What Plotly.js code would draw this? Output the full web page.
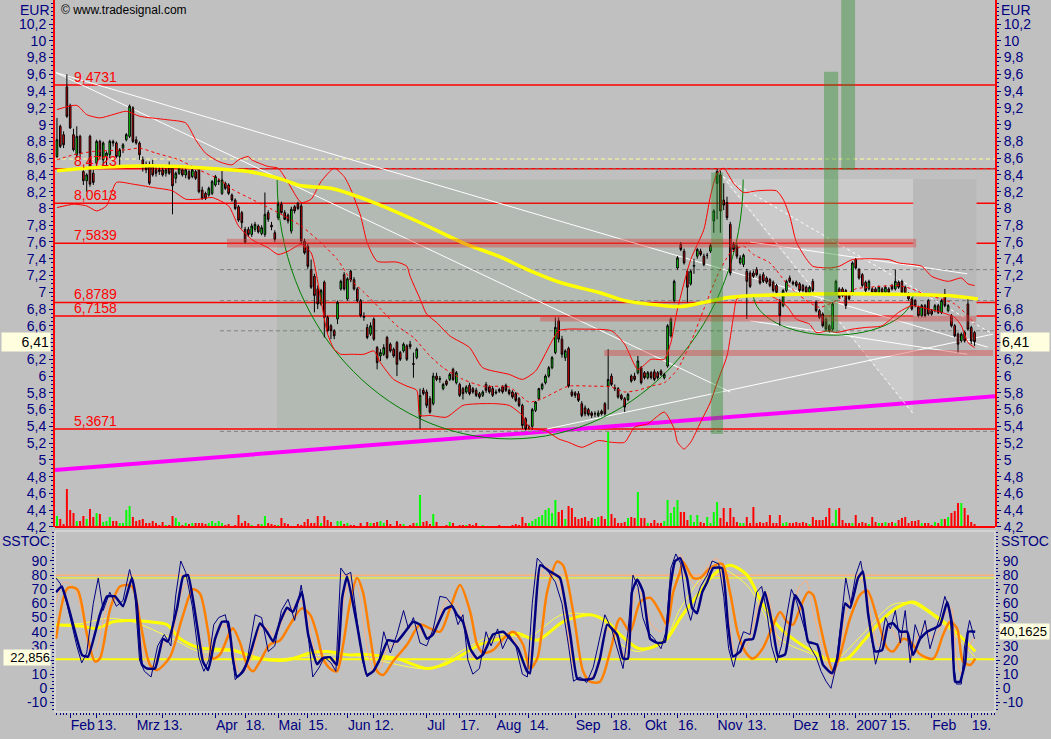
<!DOCTYPE html>
<html><head><meta charset="utf-8">
<script src="https://cdn.plot.ly/plotly-3.0.1.min.js"></script>
<style>html,body{margin:0;padding:0;background:#c0c0c0;}#chart{width:1051px;height:739px;}</style>
</head><body><div id="chart"></div>
<script>
// ---- price data (one candle per trading day, index 0 = 26 Jan 2006) ----
const open = [8.62,8.98,8.88,9.45,9.23,8.88,8.64,8.86,8.44,8.33, 8.86,8.42,8.54,8.80,8.58,8.62,8.64,8.80,8.78,8.62, 8.72,8.82,8.86,9.20,8.82,8.78,8.58,8.50,8.50,8.50, 8.46,8.46,8.46,8.42,8.50,8.48,8.36,8.42,8.46,8.40, 8.44,8.38,8.44,8.46,8.22,8.18,8.16,8.18,8.28,8.32, 8.18,8.30,8.28,8.16,8.10,8.02,7.95,7.75,7.75,7.69, 7.75,7.79,7.70,7.69,7.95,7.80,7.71,7.89,8.05,7.95, 7.92,7.73,8.02,8.06,8.03,7.61,7.55,7.27,7.19,7.04, 6.86,7.12,6.70,6.60,6.54,6.68,7.04,7.21,6.92,7.25, 7.15,7.04,6.90,6.70,6.58,6.50,6.68,6.34,6.24,6.26, 6.46,6.38,6.32,6.40,6.28,6.30,6.36,6.38,6.15,6.22, 5.51,5.83,5.81,5.73,5.67,6.00,5.96,5.85,5.94,5.96, 6.08,5.92,5.90,5.85,5.81,5.89,5.85,5.83,5.79,5.77, 5.90,5.87,5.85,5.81,5.84,5.87,5.89,5.83,5.81,5.79, 5.73,5.65,5.49,5.39,5.40,5.59,5.73,5.85,5.92,6.00, 6.10,6.28,6.66,6.44,6.22,6.33,5.81,5.80,5.79,5.67, 5.62,5.60,5.56,5.55,5.53,5.58,5.67,5.88,6.00,5.86, 5.85,5.77,5.73,5.72,6.00,6.00,6.04,6.10,6.04,5.98, 6.04,6.05,6.04,6.06,5.98,6.12,6.48,6.90,7.29,7.57, 7.49,7.25,7.10,7.31,7.43,7.49,7.43,7.44,7.49,7.85, 8.30,8.40,8.10,8.07,7.81,7.57,7.55,7.35,7.33,7.25, 7.23,7.23,7.27,7.19,7.21,7.17,7.15,7.12,7.08,6.88, 6.84,7.02,7.17,7.12,7.12,7.10,7.08,7.06,7.00,7.13, 6.88,6.78,6.74,6.68,6.60,6.56,7.00,7.04,7.04,7.02, 6.98,6.98,7.39,7.27,7.21,7.12,7.04,7.04,7.04,7.00, 7.04,7.00,7.04,7.08,7.04,7.12,7.13,7.06,6.98,6.92, 6.90,6.82,6.72,6.84,6.90,6.78,6.78,6.84,6.76,6.98, 6.78,6.72,6.60,6.50,6.42,6.52,6.86,6.58,6.52];
const high = [9.08,9.00,8.92,9.60,9.25,8.95,8.98,8.88,8.50,8.42, 8.88,8.46,8.82,8.82,8.80,8.68,8.82,8.82,8.80,8.72, 8.78,8.90,9.24,9.22,8.86,8.80,8.62,8.56,8.56,8.58, 8.50,8.50,8.50,8.48,8.56,8.50,8.44,8.50,8.48,8.48, 8.46,8.48,8.46,8.48,8.26,8.20,8.26,8.34,8.40,8.36, 8.46,8.32,8.30,8.18,8.12,8.04,7.97,7.78,7.78,7.82, 7.84,7.81,7.80,8.19,7.98,7.84,7.74,8.08,8.08,7.98, 7.94,8.02,8.04,8.08,8.06,7.64,7.58,7.39,7.22,7.08, 7.04,7.14,6.72,6.62,6.56,6.90,7.15,7.24,7.18,7.27, 7.18,7.06,6.92,6.76,6.62,6.64,6.70,6.36,6.32,6.38, 6.48,6.40,6.34,6.42,6.30,6.40,6.38,6.42,6.28,6.34, 5.85,5.86,5.84,5.76,6.04,6.04,6.00,5.92,5.96,6.04, 6.10,6.06,5.92,5.87,5.89,5.92,5.87,5.86,5.81,5.83, 5.93,5.89,5.88,5.84,5.86,5.89,5.91,5.85,5.83,5.81, 5.75,5.67,5.51,5.42,5.62,5.70,5.86,5.92,6.02,6.12, 6.24,6.70,6.70,6.48,6.32,6.35,5.84,5.82,5.82,5.70, 5.65,5.62,5.58,5.58,5.59,5.60,5.69,6.32,6.03,5.90, 5.87,5.79,5.75,5.80,6.02,6.04,6.24,6.12,6.06,6.06, 6.06,6.08,6.06,6.08,6.04,6.62,6.70,7.15,7.43,7.60, 7.52,7.28,7.27,7.40,7.53,7.52,7.46,7.47,7.58,7.99, 8.47,8.45,8.30,8.14,7.84,7.60,7.58,7.44,7.46,7.28, 7.26,7.26,7.30,7.22,7.24,7.19,7.17,7.14,7.10,6.92, 7.04,7.15,7.20,7.14,7.14,7.12,7.10,7.08,7.08,7.16, 6.90,6.80,6.76,6.70,6.62,6.88,7.15,7.06,7.06,7.04, 7.00,7.37,7.41,7.29,7.23,7.14,7.15,7.06,7.06,7.08, 7.06,7.08,7.06,7.10,7.27,7.14,7.15,7.08,7.00,6.94, 6.92,6.84,6.86,6.86,6.92,6.80,6.86,6.86,6.92,7.04, 6.86,6.74,6.62,6.52,6.52,6.54,6.92,6.60,6.54];
const low = [8.60,8.72,8.72,9.08,8.95,8.68,8.60,8.60,8.28,8.20, 8.26,8.28,8.48,8.58,8.50,8.52,8.60,8.74,8.60,8.50, 8.66,8.80,8.84,8.78,8.76,8.58,8.44,8.42,8.28,8.38, 8.38,8.40,8.38,8.38,8.40,7.93,8.30,8.40,8.38,8.36, 8.34,8.36,8.34,8.18,8.10,8.10,8.14,8.16,8.26,8.28, 8.16,8.22,8.16,8.08,7.98,7.84,7.76,7.58,7.66,7.66, 7.72,7.70,7.68,7.66,7.84,7.74,7.60,7.86,7.94,7.86, 7.82,7.70,7.94,7.98,7.58,7.45,7.28,7.04,6.76,6.80, 6.84,6.46,6.52,6.44,6.44,6.62,7.02,7.02,6.90,7.12, 7.02,6.88,6.70,6.66,6.44,6.48,6.42,6.08,6.18,6.24, 6.20,6.28,6.22,6.00,6.18,6.28,6.18,6.32,5.98,6.20, 5.37,5.77,5.62,5.55,5.65,5.94,5.92,5.83,5.88,5.94, 5.94,5.90,5.75,5.72,5.79,5.77,5.79,5.75,5.73,5.75, 5.80,5.79,5.75,5.78,5.80,5.79,5.81,5.77,5.73,5.69, 5.63,5.37,5.35,5.36,5.36,5.57,5.71,5.83,5.90,5.98, 6.08,6.26,6.40,6.22,6.18,5.86,5.75,5.74,5.69,5.51, 5.52,5.52,5.50,5.51,5.51,5.53,5.53,5.60,5.88,5.82, 5.73,5.71,5.57,5.70,5.92,5.94,6.02,5.90,5.96,5.96, 5.96,5.94,5.96,6.00,5.96,6.10,6.46,6.88,7.27,7.49, 7.33,6.88,7.08,7.22,7.40,7.43,7.31,7.40,7.47,7.71, 7.87,7.71,7.98,7.86,7.20,7.48,7.40,7.33,7.30,6.68, 7.05,7.17,7.19,7.09,7.11,7.10,7.06,7.00,6.98,6.60, 6.82,7.00,7.11,7.08,7.06,7.00,7.00,6.98,6.98,7.00, 6.76,6.68,6.58,6.54,6.52,6.54,6.98,6.92,6.94,6.80, 6.90,6.96,7.27,7.15,7.06,7.00,7.02,6.98,6.98,6.98, 6.98,6.98,6.98,7.02,7.02,7.04,6.98,6.96,6.90,6.78, 6.82,6.70,6.70,6.70,6.72,6.72,6.76,6.74,6.74,6.82, 6.76,6.58,6.46,6.28,6.40,6.40,6.54,6.38,6.36];
const close = [8.82,8.74,8.76,9.10,8.96,8.70,8.86,8.66,8.33,8.40, 8.29,8.31,8.80,8.62,8.78,8.66,8.80,8.78,8.62,8.70, 8.76,8.88,9.22,8.80,8.78,8.64,8.50,8.46,8.30,8.40, 8.42,8.44,8.40,8.46,8.42,8.27,8.42,8.48,8.40,8.46, 8.36,8.46,8.36,8.20,8.12,8.12,8.24,8.32,8.38,8.33, 8.34,8.24,8.18,8.10,8.00,7.86,7.83,7.60,7.69,7.79, 7.81,7.72,7.77,7.93,7.87,7.78,7.63,8.05,7.95,7.87, 7.85,7.99,7.97,8.00,7.61,7.47,7.31,7.06,6.96,6.86, 7.02,6.70,6.54,6.54,6.48,6.88,7.13,7.04,7.16,7.15, 7.04,6.90,6.72,6.71,6.46,6.60,6.44,6.16,6.28,6.34, 6.22,6.30,6.24,6.14,6.20,6.38,6.20,6.35,6.14,6.32, 5.77,5.79,5.65,5.57,6.00,5.96,5.97,5.90,5.90,6.02, 5.96,6.04,5.77,5.79,5.87,5.79,5.81,5.77,5.75,5.81, 5.83,5.81,5.77,5.80,5.82,5.81,5.83,5.79,5.75,5.71, 5.65,5.41,5.37,5.39,5.60,5.69,5.85,5.90,6.00,6.10, 6.22,6.58,6.44,6.26,6.30,5.88,5.77,5.77,5.71,5.53, 5.55,5.54,5.53,5.55,5.56,5.55,5.55,5.96,5.90,5.85, 5.75,5.73,5.63,5.78,5.94,5.96,6.18,5.92,5.98,6.04, 5.98,5.96,5.98,6.02,6.02,6.60,6.68,7.13,7.41,7.51, 7.35,7.06,7.25,7.32,7.51,7.45,7.33,7.44,7.56,7.97, 8.44,7.97,8.04,7.89,7.23,7.51,7.43,7.41,7.44,7.13, 7.07,7.19,7.21,7.11,7.13,7.12,7.08,7.02,7.00,6.72, 7.02,7.13,7.13,7.10,7.08,7.02,7.02,7.00,7.06,7.02, 6.78,6.70,6.60,6.56,6.54,6.86,7.13,6.94,6.96,6.84, 6.92,7.35,7.29,7.17,7.08,7.02,7.13,7.00,7.00,7.06, 7.00,7.06,7.00,7.04,7.13,7.06,7.00,6.98,6.92,6.80, 6.84,6.72,6.84,6.72,6.74,6.74,6.84,6.76,6.90,6.84, 6.84,6.60,6.48,6.38,6.50,6.42,6.56,6.42,6.41];
const volume = [11,8,3,38,17,14,6,6,11,8, 18,10,14,13,5,6,10,6,6,4, 4,17,21,10,6,7,8,4,4,6, 4,2,5,2,2,11,9,5,2,4, 3,4,4,4,4,3,4,6,4,6, 4,2,3,1,2,12,4,6,4,2, 1,3,3,11,4,3,2,2,9,4, 3,1,1,3,2,5,8,4,4,11, 4,11,7,5,1,6,6,3,4,2, 2,1,4,1,5,4,4,5,6,4, 7,3,1,6,3,3,1,2,4,4, 32,5,6,3,13,5,1,1,2,5, 4,1,2,2,2,3,2,4,1,2, 1,1,1,1,2,1,1,1,2,3, 2,10,4,4,6,8,10,12,17,19, 14,27,15,17,8,21,19,10,8,9, 10,6,9,8,10,11,8,95,13,9, 4,4,5,9,10,9,35,9,9,4, 4,7,4,4,6,27,14,20,27,15, 15,7,12,5,12,5,4,10,4,15, 25,9,19,5,19,10,5,4,4,10, 4,20,4,5,4,5,12,4,4,12, 4,5,4,4,5,4,5,4,3,10, 7,7,7,10,19,4,17,19,7,4, 4,4,12,4,5,4,3,10,5,4, 4,5,4,5,4,7,9,10,4,6, 6,7,4,4,4,2,5,4,8,8, 10,14,16,24,24,19,12,5,3];

// ---- Bollinger bands and 200-day average (bar index, price) ----
const bbUpX = [0,6,9,13,17,21,25,33,39,42,45,49,53,55,58,59,64,67,70,74,77,80,84,87,89,92,94,97,103,106,107,110,112,115,119,125,129,137,141,145,152,155,159,168,172,176,180,184,186,188,192,196,198,200,202,205,208,212,218,220,222,224,227,229,234,237,241,252,255,262,265,270,274,276,278];
const bbUp  = [9.18,9.23,9.12,9.08,9.12,9.16,9.10,9.06,9.02,8.82,8.66,8.56,8.52,8.58,8.62,8.58,8.50,8.48,8.31,8.07,8.11,8.32,8.48,8.38,8.23,7.91,7.59,7.37,7.36,7.31,7.19,6.92,6.74,6.64,6.48,6.34,6.10,6.02,5.96,6.06,6.54,6.56,6.56,6.54,6.38,6.08,6.20,6.20,6.40,6.80,7.39,7.75,8.15,8.42,8.48,8.30,8.19,8.21,8.21,8.11,7.91,7.60,7.40,7.31,7.29,7.31,7.39,7.39,7.35,7.31,7.19,7.13,7.17,7.10,7.08];
const bbLoX = [0,5,9,12,15,18,23,29,35,39,43,47,52,55,59,64,67,70,74,77,80,82,84,86,89,93,96,98,102,106,109,110,113,118,123,128,133,137,141,143,148,152,155,159,164,168,172,175,179,184,187,188,190,192,195,198,200,203,205,206,209,214,216,221,224,228,230,234,236,241,245,250,255,259,264,268,272,274,276,278];
const bbLo  = [8.01,8.05,8.03,7.97,8.03,8.31,8.29,8.25,8.21,8.11,8.11,8.13,8.03,7.79,7.63,7.53,7.45,7.49,7.57,7.47,6.90,6.50,6.32,6.26,6.26,6.26,6.30,6.16,5.96,5.88,5.83,5.53,5.53,5.51,5.65,5.67,5.67,5.65,5.53,5.39,5.35,5.25,5.21,5.15,5.23,5.21,5.21,5.39,5.43,5.57,5.37,5.21,5.13,5.21,5.45,5.69,5.92,6.24,6.72,6.92,6.96,6.96,6.96,6.84,6.68,6.62,6.52,6.54,6.52,6.56,6.58,6.60,6.76,6.84,6.80,6.76,6.70,6.60,6.40,6.34];
const bbMidX = [0,5,11,21,25,30,37,43,49,53,59,67,74,80,85,89,93,98,103,108,113,117,123,129,137,143,147,152,155,162,168,172,176,180,184,188,192,196,200,204,208,211,216,221,225,231,237,242,246,255,259,264,268,272,276,278];
const bbMid  = [8.58,8.64,8.68,8.70,8.72,8.66,8.58,8.46,8.35,8.23,8.11,7.95,7.79,7.59,7.39,7.15,7.00,6.80,6.60,6.46,6.24,6.10,5.96,5.88,5.87,5.69,5.73,5.83,5.88,5.88,5.87,5.81,5.83,5.88,5.92,6.08,6.40,6.80,7.19,7.47,7.55,7.45,7.35,7.11,6.96,6.82,6.92,7.04,7.06,7.08,7.04,6.96,6.92,6.86,6.72,6.62];
const maX = [0,13,28,37,49,58,68,74,83,96,109,123,135,142,153,164,172,184,189,204,211,229,249,270,279];
const ma  = [8.45,8.49,8.51,8.50,8.47,8.44,8.35,8.27,8.24,8.07,7.85,7.59,7.41,7.28,7.11,7.00,6.90,6.84,6.83,6.94,6.96,6.98,6.98,6.96,6.92];

// ---- SSTOC panel lines (bar index, value) ----
const navyX = [-0.3,1.5,7.6,9.4,13,15.2,17.6,20,22.7,24.2,25.8,27.3,29.7,32.1,33.6,36.4,38.2,39.7,42.4,44.2,45.8,47.9,50,51.8,53.3,54.5,56.4,58.5,61.5,63.6,65.5,67.6,69.7,71.5,74.2,76.1,78.8,80.3,82.7,84.8,86.4,87.9,90.9,93.9,95.8,97.9,100.3,103,105.5,107.9,110,112.1,113.9,117.6,119.7,121.2,123,125.2,127.3,129.1,132.1,135.2,137.3,139.7,142.4,143.3,144.8,146.4,149.4,152.4,155.5,157.6,159.4,162.4,164.5,166.7,169.7,171.5,173,174.2,175.8,177.6,179.7,182.1,184.2,185.8,187.3,188.8,190.9,192.4,193.9,195.5,197,198.8,201.5,203.3,204.8,207,208.5,210.9,213,214.5,216.7,218.5,220.6,222.1,223.6,225.8,227.6,230.3,232.1,234.8,236.4,238.8,240.3,242.7,244.2,245.8,247.9,250,251.8,253.3,255.5,257.6,259.4,261.5,263.6,265.5,267.6,269.7,271.2,272.1,273.6,275.2,276.1,278.2];
const navy  = [68,72,23.5,22.4,52,65,65,58,78,59,16.5,14,14,35,33,57,79,80,45,19,13,35,47,47,21,8,12,24,46,40,33,47,57,54,68,38,17,21,22,16.5,64,79,45,9.4,12,21,34,33,40,47,45,35,38,56,58,52,47,28,21,24,38,40,35,28,12,10.6,49.5,87,82.5,78,38,7,6,7,21,45,38,21,21,68,77,68,35,32,33,71,90,92,78,57,53,68,75,85,85,45,22.4,26,34,35,57,68,45,22.4,24,45,66,57,33,31,16.5,10.6,21,60,57,78,82.5,52,26,27,45,46,40,40,23.5,35,40,42,45,61,45,4.7,4.7,19,40,40];
const navyThinX = [-0.3,1,3,6,7.5,9,11,12.5,14,16,18,20,22,23.5,25,26.5,28.5,30.5,32.5,34.5,36,37.5,39,41,43,44.5,46,47.5,49,51,52.5,54,55.5,57.5,60,62,64,66,68,70,72,74,75.5,77.5,79.5,81,83,84.5,86,87.5,89,90.5,92.5,94,96,97.5,99,101,103,105,106.5,108,110,112,114,116,118,120,121.5,123,124.5,126,128,130,131.5,133.5,135,137,139,141,142.5,144,145.5,147,149,151,153,155,156.5,158.5,160.5,162.5,164,166,168,170,171.5,173,174.5,176,177.5,179,181,183,184.5,186,187.5,189,190.5,192,193.5,195,197,198.5,200.5,202,203.5,205,206.5,208,210,212,213.5,215,216.5,218,219.5,221,222.5,224,226,228,230,231.5,233,234.5,236,237.5,239,240.5,242,243.5,245,246.5,248,249.5,251,252.5,254,255.5,257,258.5,260,261.5,263,264.5,266,267.5,269,270.5,271.5,272.5,274,275,276.5,278];
const navyThin  = [78,74,60,30,18,25,60,78,55,68,58,62,84,70,20,12,8,30,38,30,66,90,82,58,22,12,20,45,50,52,35,6,10,18,52,50,26,30,55,63,48,73,50,8,15,22,18,12,85,80,82,55,20,8,13,18,40,25,38,55,42,50,32,30,42,65,64,58,45,52,20,10,14,40,30,42,28,38,30,10,8,60,92,88,82,75,60,30,5,8,4,15,30,52,42,25,14,40,80,72,50,40,35,28,40,85,95,88,60,48,62,72,80,90,88,65,28,15,30,40,38,68,72,55,30,18,30,50,70,62,45,30,22,12,5,0,15,45,78,60,80,90,70,40,17,30,50,42,55,32,55,18,45,35,48,28,40,50,65,55,20,3,3,30,48,35];
const orangeX = [-0.3,3.3,6.1,9.1,11.5,13,16.1,19.1,22.7,25.2,28.2,30.3,34.2,37.9,41.2,43.3,45.8,47.3,49.4,52.4,53.3,55.5,57.6,59.4,61.5,64.5,67.6,70.6,74.2,76.7,78.8,80.6,82.7,84.8,86.7,88.8,90.9,92.7,94.8,97,98.8,101.8,106.1,110,113,116.1,119.1,122.1,125.2,127.3,129.1,132.1,135.2,138.2,141.2,143.3,145.5,148.5,151.5,153.3,156.4,159.4,161.5,164.5,167.6,170.6,173.6,176.7,179.7,182.7,184.8,186.7,188.8,189.7,192.7,194.8,197.9,201.5,203.9,206.4,209.1,210.9,213.9,217,219.1,221.2,223,225.2,227.6,229.1,231.2,233.3,235.2,237.3,240.3,243.3,245.5,248.5,251.5,253.3,256.4,258.5,261.5,265.5,268.5,270.6,272.7,274.5,276.7,278.2];
const orange  = [35,71,70,38,19,21,56,72,72,47,16.5,13,22,49.5,70,67,40,21,24,40,42.4,32,16.5,12,19,31,34,45,56.5,52,38,21,14,12,31,61,78,68,38,12,9.4,19,31,45,42.4,40,56.5,73,54,31,25,27,35,40,31,14,21,68,89.5,87,54,12,4.7,4.7,26,49.5,40,61,64,54,45,68,82.5,89.5,78,78,85,88,68,38,24,21,28.5,45,54,47,45,57,68,66,45,24,12,24,49.5,66,69,49.5,28.5,26,35,33,24,21,38,47,42.4,19,16.5,21];
const peachX = [-0.3,2,5,8,10,12,14,16,18,21,23,25,27,29,32,35,37,39,41,43,45,47,49,51,53,55,57,59,62,64,66,69,72,74,76,78,80,82,84,86,88,90,92,94,96,98,100,103,106,109,112,115,118,121,124,126,128,131,134,137,140,142,144,146,148,150,153,156,158,161,164,166,168,170,172,174,176,178,180,183,185,187,189,191,194,197,200,203,205,207,209,211,213,215,217,219,221,223,225,227,229,231,233,235,237,239,241,243,245,247,249,251,253,255,257,259,261,263,265,267,269,271,272.5,274,276,278];
const peach  = [60,75,72,50,26,28,48,62,66,74,74,40,18,16,30,38,62,74,66,40,20,30,42,45,32,12,12,22,44,42,36,52,58,62,50,28,18,18,16,50,72,80,62,28,12,14,28,32,42,44,36,45,62,60,42,22,22,35,36,38,28,14,30,78,86,84,68,20,6,6,14,38,44,34,22,52,70,62,45,40,52,88,94,80,72,86,92,58,28,22,30,45,62,68,48,30,40,58,72,76,55,36,18,8,22,52,66,78,72,45,30,40,42,34,40,22,38,44,35,40,52,57,22,10,28,36];
const yelX = [-0.3,7,12.1,17,21.2,28.2,33.3,37.3,43.3,53.3,61.5,69.7,76.7,81.8,88.8,92.7,103,112.1,117,123,128.2,134.2,139.4,145.5,153.3,161.5,166.7,170.6,175.8,179.7,184.8,188.8,194.8,198.8,203.9,209.1,213.9,219.1,224.2,229.1,234.2,239.4,244.2,249.4,254.5,259.4,264.5,269.7,274.5,278.2];
const yel  = [45,44,42.4,47,48,47,45,35,28.5,27,21,20,25,26,23.5,24,21,14,16.5,24,31,35,39,34,47,52,47,38,28.5,28.5,35,49.5,68,80,87,80,59,42.4,33,26,20,21,33,47,57,61,54,45,35,26];
const yelThinX = [-0.3,8,15,23,35,43,53,63,74,89,113,123,133,143,153,164,171,176,184,189,199,209,219,229,235,244,253,259,270,278];
const yelThin  = [45,46,49.5,47,35,26,26,20,22.4,23.5,14,27,38,36.5,52,50.5,31,26,34,57,86,73,35,24,19,38,59,60,42.4,22.4];

// ---- axis labels ----
const xTickIdx  = [4,12,24,32,48,57,67,76,88,96,112,122,133,143,157,168,178,188,200,209,223,234,242,252.5,265,277];
const xTickText = ['Feb','13.','Mrz','13.','Apr','18.','Mai','15.','Jun','12.','Jul','17.','Aug','14.','Sep','18.','Okt','16.','Nov','13.','Dez','18.','2007','15.','Feb','19.'];
const levels = [9.4731, 8.4723, 8.0613, 7.5839, 6.8789, 6.7158, 5.3671];
const levelText = ['9,4731','8,4723','8,0613','7,5839','6,8789','6,7158','5,3671'];
const lastPriceText = '6,41';
const lastStocLeft = 22.856, lastStocLeftText = '22,856';
const lastStocRight = 40.1625, lastStocRightText = '40,1625';

const NAVY = '#000080';
const FONT = 'Liberation Sans, Arial, sans-serif';
const idx = open.map((_, i) => i);
const fmt = v => { let s = (Math.round(v*10)/10).toFixed(1); if (s.endsWith('.0')) s = s.slice(0,-2); return s.replace('.', ','); };
const pTicks = []; for (let k = 42; k <= 102; k += 2) pTicks.push(k/10);
const sTicks = []; for (let k = -10; k <= 90; k += 10) sTicks.push(k);
// labels hidden behind the value boxes
const pTextL = pTicks.map(v => Math.abs(v - 6.4) < 1e-6 ? '' : fmt(v));
const pTextR = pTextL.slice();
const sTextL = sTicks.map(v => v === 20 ? '' : String(v));
const sTextR = sTicks.map(v => v === 40 ? '' : String(v));

const volColor = close.map((c, i) => c >= open[i] ? '#00ff00' : '#ff0000');

const traces = [
  {type:'bar', x: idx, y: volume, xaxis:'x', yaxis:'y3', marker:{color: volColor, line:{width:0}}, width:0.6, hoverinfo:'skip'},
  {type:'scatter', mode:'lines', x: bbUpX, y: bbUp, xaxis:'x', yaxis:'y', line:{color:'#ff0000', width:1, shape:'spline', smoothing:0.6}, hoverinfo:'skip'},
  {type:'scatter', mode:'lines', x: bbLoX, y: bbLo, xaxis:'x', yaxis:'y', line:{color:'#ff0000', width:1, shape:'spline', smoothing:0.6}, hoverinfo:'skip'},
  {type:'scatter', mode:'lines', x: bbMidX, y: bbMid, xaxis:'x', yaxis:'y', line:{color:'#ff0000', width:1, dash:'3px,3px', shape:'spline', smoothing:0.6}, hoverinfo:'skip'},
  {type:'candlestick', x: idx, open: open, high: high, low: low, close: close, xaxis:'x', yaxis:'y',
   increasing:{line:{color:'#000000', width:1}, fillcolor:'#00ff00'},
   decreasing:{line:{color:'#000000', width:1}, fillcolor:'#ff0000'}, whiskerwidth:0, hoverinfo:'skip'},
  {type:'scatter', mode:'lines', x: maX, y: ma, xaxis:'x', yaxis:'y', line:{color:'#ffff00', width:3.5, shape:'spline', smoothing:0.8}, hoverinfo:'skip'},
  // SSTOC
  {type:'scatter', mode:'lines', x: yelThinX, y: yelThin, xaxis:'x2', yaxis:'y4', line:{color:'#ffff40', width:1, shape:'spline', smoothing:0.8}, hoverinfo:'skip'},
  {type:'scatter', mode:'lines', x: yelX, y: yel, xaxis:'x2', yaxis:'y4', line:{color:'#ffff00', width:3, shape:'spline', smoothing:0.8}, hoverinfo:'skip'},
  {type:'scatter', mode:'lines', x: peachX, y: peach, xaxis:'x2', yaxis:'y4', line:{color:'#ffb07a', width:1, shape:'spline', smoothing:0.6}, hoverinfo:'skip'},
  {type:'scatter', mode:'lines', x: orangeX, y: orange, xaxis:'x2', yaxis:'y4', line:{color:'#ff8000', width:2.5, shape:'spline', smoothing:0.8}, hoverinfo:'skip'},
  {type:'scatter', mode:'lines', x: navyThinX, y: navyThin, xaxis:'x2', yaxis:'y4', line:{color:NAVY, width:1}, hoverinfo:'skip'},
  {type:'scatter', mode:'lines', x: navyX, y: navy, xaxis:'x2', yaxis:'y4', line:{color:NAVY, width:2.5, shape:'spline', smoothing:0.4}, hoverinfo:'skip'}
];

// half-ellipse (cup) as bezier path in data coordinates
function cup(cx, rx, topY, ry) {
  const k = 0.5523;
  const x0 = cx - rx, x1 = cx + rx, yb = topY - ry;
  return `M ${x0},${topY} C ${x0},${topY - k*ry} ${cx - k*rx},${yb} ${cx},${yb} C ${cx + k*rx},${yb} ${x1},${topY - k*ry} ${x1},${topY}`;
}

const shapes = [];
// shaded regions
shapes.push({type:'rect', xref:'x', yref:'y', x0:66.7, x1:198.2, y0:5.367, y1:8.345, fillcolor:'rgba(90,140,90,0.12)', line:{width:0}, layer:'below'});
shapes.push({type:'path', xref:'x', yref:'y', path:'M 201.8,8.35 L 259.4,8.35 L 259.4,5.55 Z', fillcolor:'rgba(255,255,255,0.18)', line:{width:0}, layer:'below'});
shapes.push({type:'rect', xref:'x', yref:'y', x0:259.4, x1:278.6, y0:6.28, y1:8.35, fillcolor:'#b9b9b9', opacity:1, line:{width:0}, layer:'below'});
// magenta trend
shapes.push({type:'line', xref:'x', yref:'y', x0:-0.6, y0:4.88, x1:284.2, y1:5.76, line:{color:'#ff00ff', width:4}, layer:'below'});
// dashed levels
[8.47, 7.27, 6.90, 6.54, 5.34].forEach(v => shapes.push({type:'line', xref:'x', yref:'y', x0:49.4, x1:284.2, y0:v, y1:v, line:{color:'#808080', width:1, dash:'4px,3px'}, layer:'below'}));
shapes.push({type:'line', xref:'paper', yref:'y', x0:0, x1:1, y0:8.59, y1:8.59, line:{color:'#ffff99', width:1, dash:'4px,3px'}, layer:'below'});
// red levels
levels.forEach(v => shapes.push({type:'line', xref:'paper', yref:'y', x0:0, x1:1, y0:v, y1:v, line:{color:'#ff0000', width:1.5}, layer:'below'}));
// white trend lines
shapes.push({type:'line', xref:'x', yref:'y', x0:-0.3, y0:9.62, x1:282, y1:6.345, line:{color:'#ffffff', width:1}, layer:'below'});
shapes.push({type:'line', xref:'x', yref:'y', x0:-0.3, y0:9.62, x1:204, y1:5.81, line:{color:'#ffffff', width:1}, layer:'below'});
shapes.push({type:'line', xref:'x', yref:'y', x0:148.5, y0:5.369, x1:283.6, y1:6.50, line:{color:'#ffffff', width:1}, layer:'below'});
shapes.push({type:'line', xref:'x', yref:'y', x0:210, y0:7.60, x1:275.8, y1:7.22, line:{color:'#ffffff', width:1}, layer:'below'});
shapes.push({type:'line', xref:'x', yref:'y', x0:210, y0:6.66, x1:275.8, y1:6.26, line:{color:'#ffffff', width:1}, layer:'below'});
shapes.push({type:'line', xref:'x', yref:'y', x0:201.8, y0:8.38, x1:259.4, y1:5.55, line:{color:'#ffffff', width:1, dash:'3px,3px'}, layer:'below'});
shapes.push({type:'line', xref:'x', yref:'y', x0:201.8, y0:8.38, x1:282.7, y1:6.52, line:{color:'#ffffff', width:1, dash:'3px,3px'}, layer:'below'});
// cups
shapes.push({type:'path', xref:'x', yref:'y', path: cup(137.3, 70.6, 8.345, 3.095), line:{color:'#008000', width:1}, layer:'below'});
shapes.push({type:'path', xref:'x', yref:'y', path: cup(235.2, 24.2, 6.976, 0.488), line:{color:'#008000', width:1}, layer:'below'});
// red zones
shapes.push({type:'rect', xref:'x', yref:'y', x0:51.5, x1:260.3, y0:7.534, y1:7.637, fillcolor:'rgba(220,60,60,0.4)', line:{width:0}});
shapes.push({type:'rect', xref:'x', yref:'y', x0:146.4, x1:278.5, y0:6.65, y1:6.72, fillcolor:'rgba(220,60,60,0.4)', line:{width:0}});
shapes.push({type:'rect', xref:'x', yref:'y', x0:165.8, x1:283.6, y0:6.24, y1:6.31, fillcolor:'rgba(220,60,60,0.4)', line:{width:0}});
// green target columns
shapes.push({type:'rect', xref:'x', yref:'y', x0:198.2, x1:201.8, y0:5.31, y1:8.43, fillcolor:'rgba(40,140,40,0.4)', line:{width:0}});
shapes.push({type:'rect', xref:'x', yref:'y', x0:232.4, x1:236.7, y0:6.52, y1:9.63, fillcolor:'rgba(40,140,40,0.4)', line:{width:0}});
shapes.push({type:'rect', xref:'x', yref:'y', x0:237.6, x1:241.8, y0:8.46, y1:10.6, fillcolor:'rgba(40,140,40,0.4)', line:{width:0}});
// panel separators
shapes.push({type:'line', xref:'paper', yref:'y domain', x0:0, x1:1, y0:0, y1:0, line:{color:'#ff0000', width:2}});
shapes.push({type:'rect', xref:'paper', yref:'y4 domain', x0:0, x1:1, y0:0, y1:1, line:{color:'#e6e6e6', width:1}});
// SSTOC guide lines
shapes.push({type:'line', xref:'paper', yref:'y4', x0:0, x1:1, y0:80, y1:80, line:{color:'#ffb07a', width:1.5}, layer:'below'});
shapes.push({type:'line', xref:'paper', yref:'y4', x0:0, x1:1, y0:78, y1:78, line:{color:'#ffff00', width:1}, layer:'below'});
shapes.push({type:'line', xref:'paper', yref:'y4', x0:0, x1:1, y0:20.5, y1:20.5, line:{color:'#ffff00', width:2}, layer:'below'});

const px2paperX = p => (p - 55) / 940;
const px2paperY = p => (712 - p) / 712;
const annotations = [];
levels.forEach((v, k) => annotations.push({xref:'x', yref:'y', x:4.5, y:v, xanchor:'left', yanchor:'bottom', yshift:-2, text: levelText[k], showarrow:false, font:{family:FONT, size:14, color:'#ff0000'}}));
annotations.push({xref:'paper', yref:'paper', x:px2paperX(52), y:px2paperY(10), xanchor:'right', yanchor:'middle', text:'EUR', showarrow:false, font:{family:FONT, size:14, color:NAVY}});
annotations.push({xref:'paper', yref:'paper', x:px2paperX(999), y:px2paperY(10), xanchor:'left', yanchor:'middle', text:'EUR', showarrow:false, font:{family:FONT, size:14, color:NAVY}});
annotations.push({xref:'paper', yref:'paper', x:px2paperX(59), y:px2paperY(10), xanchor:'left', yanchor:'middle', text:'© www.tradesignal.com', showarrow:false, font:{family:FONT, size:12, color:'#000000'}});
annotations.push({xref:'paper', yref:'paper', x:px2paperX(52), y:px2paperY(541), xanchor:'right', yanchor:'middle', text:'SSTOC', showarrow:false, font:{family:FONT, size:14, color:NAVY}});
annotations.push({xref:'paper', yref:'paper', x:px2paperX(999), y:px2paperY(541), xanchor:'left', yanchor:'middle', text:'SSTOC', showarrow:false, font:{family:FONT, size:14, color:NAVY}});
annotations.push({xref:'paper', yref:'y', x:px2paperX(51), y:close[close.length-1], xanchor:'right', yanchor:'middle', width:46, align:'right', text:lastPriceText, showarrow:false, bgcolor:'#ffffe0', borderpad:1, font:{family:FONT, size:14, color:'#000000'}});
annotations.push({xref:'paper', yref:'y', x:px2paperX(1000), y:close[close.length-1], xanchor:'left', yanchor:'middle', width:46, align:'left', text:lastPriceText, showarrow:false, bgcolor:'#ffffe0', borderpad:1, font:{family:FONT, size:14, color:'#000000'}});
annotations.push({xref:'paper', yref:'y4', x:px2paperX(51), y:lastStocLeft - 0.9, xanchor:'right', yanchor:'middle', width:46, align:'right', text:lastStocLeftText, showarrow:false, bgcolor:'#ffffe0', borderpad:0, font:{family:FONT, size:13, color:'#000000'}});
annotations.push({xref:'paper', yref:'y4', x:px2paperX(999), y:lastStocRight, xanchor:'left', yanchor:'middle', width:49, align:'left', text:lastStocRightText, showarrow:false, bgcolor:'#ffffe0', borderpad:0, font:{family:FONT, size:13, color:'#000000'}});

const axFont = {family:FONT, size:14, color:NAVY};
const layout = {
  width:1051, height:739,
  margin:{l:55, r:56, t:0, b:27},
  paper_bgcolor:'#c0c0c0', plot_bgcolor:'#c0c0c0',
  showlegend:false, dragmode:false,
  xaxis:{domain:[0,1], range:[-0.6,284.2], anchor:'y', showgrid:false, zeroline:false, showticklabels:false, ticks:'', rangeslider:{visible:false}, fixedrange:true},
  xaxis2:{domain:[0,1], matches:'x', anchor:'y4', showgrid:false, zeroline:false, tickmode:'array', tickvals:xTickIdx, ticktext:xTickText,
    ticks:'outside', ticklen:5, tickcolor:NAVY, ticklabelposition:'outside right', tickangle:0, tickfont:axFont,
    minor:{dtick:1, tick0:0, ticks:'outside', ticklen:2, tickcolor:NAVY, showgrid:false}, rangeslider:{visible:false}, fixedrange:true},
  yaxis:{domain:[0.25983,1], range:[4.199,10.487], showgrid:false, zeroline:false, tickmode:'array', tickvals:pTicks, ticktext:pTextL,
    ticks:'outside', ticklen:4, tickcolor:NAVY, tickfont:axFont, showline:true, linecolor:'#ff0000', linewidth:2,
    minor:{dtick:0.05, tick0:0, ticks:'outside', ticklen:2, tickcolor:NAVY, showgrid:false}, fixedrange:true},
  yaxis2:{overlaying:'y', side:'right', matches:'y', anchor:'x', showgrid:false, zeroline:false, tickmode:'array', tickvals:pTicks, ticktext:pTextR,
    ticks:'outside', ticklen:4, tickcolor:NAVY, tickfont:axFont, showline:true, linecolor:'#ff0000', linewidth:2,
    minor:{dtick:0.05, tick0:0, ticks:'outside', ticklen:2, tickcolor:NAVY, showgrid:false}, fixedrange:true},
  yaxis3:{overlaying:'y', range:[0,527], visible:false, fixedrange:true},
  yaxis4:{domain:[0,0.25421], range:[-16.76,111.2], anchor:'x2', showgrid:false, zeroline:false, tickmode:'array', tickvals:sTicks, ticktext:sTextL,
    ticks:'outside', ticklen:4, tickcolor:NAVY, tickfont:axFont, showline:false,
    minor:{dtick:2.5, tick0:0, ticks:'outside', ticklen:2, tickcolor:NAVY, showgrid:false}, fixedrange:true},
  yaxis5:{overlaying:'y4', side:'right', matches:'y4', anchor:'x2', showgrid:false, zeroline:false, tickmode:'array', tickvals:sTicks, ticktext:sTextR,
    ticks:'outside', ticklen:4, tickcolor:NAVY, tickfont:axFont,
    minor:{dtick:2.5, tick0:0, ticks:'outside', ticklen:2, tickcolor:NAVY, showgrid:false}, fixedrange:true},
  shapes: shapes,
  annotations: annotations
};
// invisible anchors so the right-hand axes render
traces.push({type:'scatter', x:[0], y:[5], xaxis:'x', yaxis:'y2', mode:'markers', marker:{opacity:0}, hoverinfo:'skip'});
traces.push({type:'scatter', x:[0], y:[50], xaxis:'x2', yaxis:'y5', mode:'markers', marker:{opacity:0}, hoverinfo:'skip'});
Plotly.newPlot('chart', traces, layout, {staticPlot:true});
</script></body></html>
